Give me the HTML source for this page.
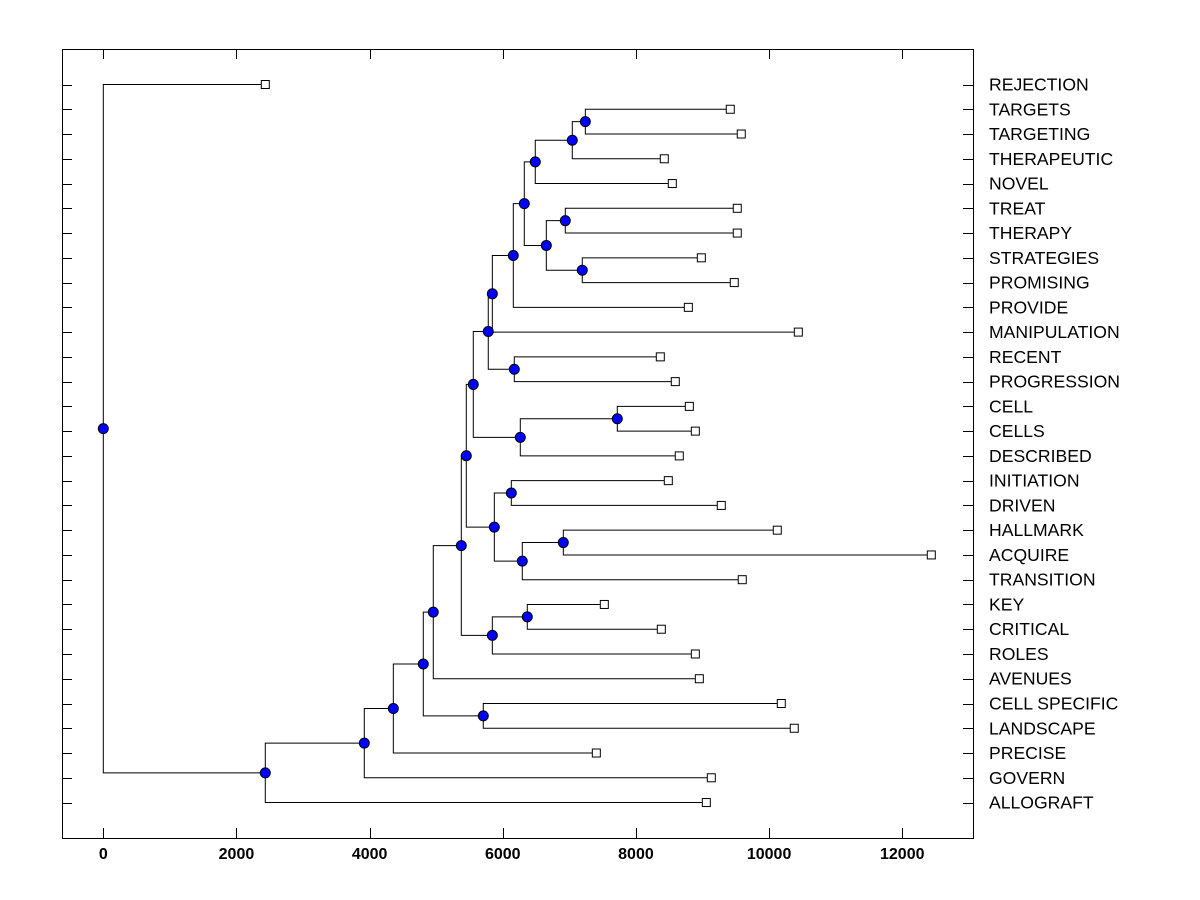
<!DOCTYPE html>
<html><head><meta charset="utf-8"><style>
html,body{margin:0;padding:0;background:#fff;}
svg{display:block;font-family:"Liberation Sans",Arial,sans-serif;}
</style></head><body>
<svg id="chart" width="1200" height="900" viewBox="0 0 1200 900" xmlns="http://www.w3.org/2000/svg">
<rect x="62.5" y="49.5" width="911" height="789" fill="none" stroke="#000" stroke-width="1"/>
<g id="ticks"></g><g id="links"></g><g id="nodes"></g><g id="labels"></g>
</svg>
<script>
const leafNames = ["REJECTION","TARGETS","TARGETING","THERAPEUTIC","NOVEL","TREAT","THERAPY","STRATEGIES","PROMISING","PROVIDE","MANIPULATION","RECENT","PROGRESSION","CELL","CELLS","DESCRIBED","INITIATION","DRIVEN","HALLMARK","ACQUIRE","TRANSITION","KEY","CRITICAL","ROLES","AVENUES","CELL SPECIFIC","LANDSCAPE","PRECISE","GOVERN","ALLOGRAFT"];
const leafHeights = [2433,9417,9582,8426,8546,9522,9522,8982,9477,8787,10439,8366,8591,8802,8892,8651,8486,9282,10123,12436,9597,7525,8381,8892,8952,10183,10378,7405,9132,9057];
const mergeNames = ["BB","AA","Z","X","Y","W","V","U","S","T","P","R","Q","K","M","O","N","L","H","J","I","G","E","F","D","C","B","A","root"];
const mergeLeft  = ["TARGETS","BB","AA","TREAT","STRATEGIES","X","Z","V","U","RECENT","S","CELL","R","P","INITIATION","HALLMARK","O","M","K","KEY","J","H","G","CELL SPECIFIC","E","D","C","B","REJECTION"];
const mergeRight = ["TARGETING","THERAPEUTIC","NOVEL","THERAPY","PROMISING","Y","W","PROVIDE","MANIPULATION","PROGRESSION","T","CELLS","DESCRIBED","Q","DRIVEN","ACQUIRE","TRANSITION","N","L","CRITICAL","ROLES","I","AVENUES","LANDSCAPE","F","PRECISE","GOVERN","ALLOGRAFT","A"];
const mergeHeights = [7240,7044,6488,6939,7194,6654,6323,6158,5843,6173,5782,7720,6263,5557,6128,6909,6293,5873,5452,6368,5843,5377,4956,5707,4806,4356,3920,2433,0];
const xTicks = [0,2000,4000,6000,8000,10000,12000];

const NS="http://www.w3.org/2000/svg";
const X0=103.3, XS=0.06658, Y0=84.5, YS=24.76;
const xs=v=>X0+v*XS;
const ys=i=>Y0+i*YS;
function mk(tag,attrs,parent){const e=document.createElementNS(NS,tag);for(const k in attrs)e.setAttribute(k,attrs[k]);document.getElementById(parent).appendChild(e);return e;}

const pos={};
leafNames.forEach((n,i)=>{pos[n]={x:xs(leafHeights[i]),y:ys(i)};});
mergeNames.forEach((n,i)=>{
  const a=pos[mergeLeft[i]], b=pos[mergeRight[i]];
  const x=xs(mergeHeights[i]);
  pos[n]={x:x,y:(a.y+b.y)/2};
  const p=mk('path',{d:`M${a.x},${a.y}H${x}V${b.y}H${b.x}`,fill:'none',stroke:'#000','stroke-width':1},'links');
  
  
});
mergeNames.forEach(n=>{
  const c=mk('circle',{cx:pos[n].x,cy:pos[n].y,r:5,fill:'#0000ff',stroke:'#000','stroke-width':1},'nodes');
  
  
});
leafNames.forEach((n,i)=>{
  const y=ys(i);
  const r=mk('rect',{x:pos[n].x-4,y:y-4,width:8,height:8,fill:'#fff',stroke:'#000','stroke-width':1},'nodes');
  
  
  const t=mk('text',{x:989,y:y+6,'font-size':17.6,fill:'#000'},'labels');
  t.textContent=n;
  
  
  const l1=mk('path',{d:`M62,${Math.round(y)+0.5}H72M963,${Math.round(y)+0.5}H973`,stroke:'#000','stroke-width':1},'ticks');
  
  
});
xTicks.forEach(v=>{
  const x=Math.round(xs(v))+0.5;
  const l=mk('path',{d:`M${x},838V828M${x},49V59`,stroke:'#000','stroke-width':1},'ticks');
  
  
  const t=mk('text',{x:xs(v),y:859,'font-size':16,'font-weight':'bold','text-anchor':'middle',fill:'#000'},'labels');
  t.textContent=String(v);
  
  
});
</script>
</body></html>
